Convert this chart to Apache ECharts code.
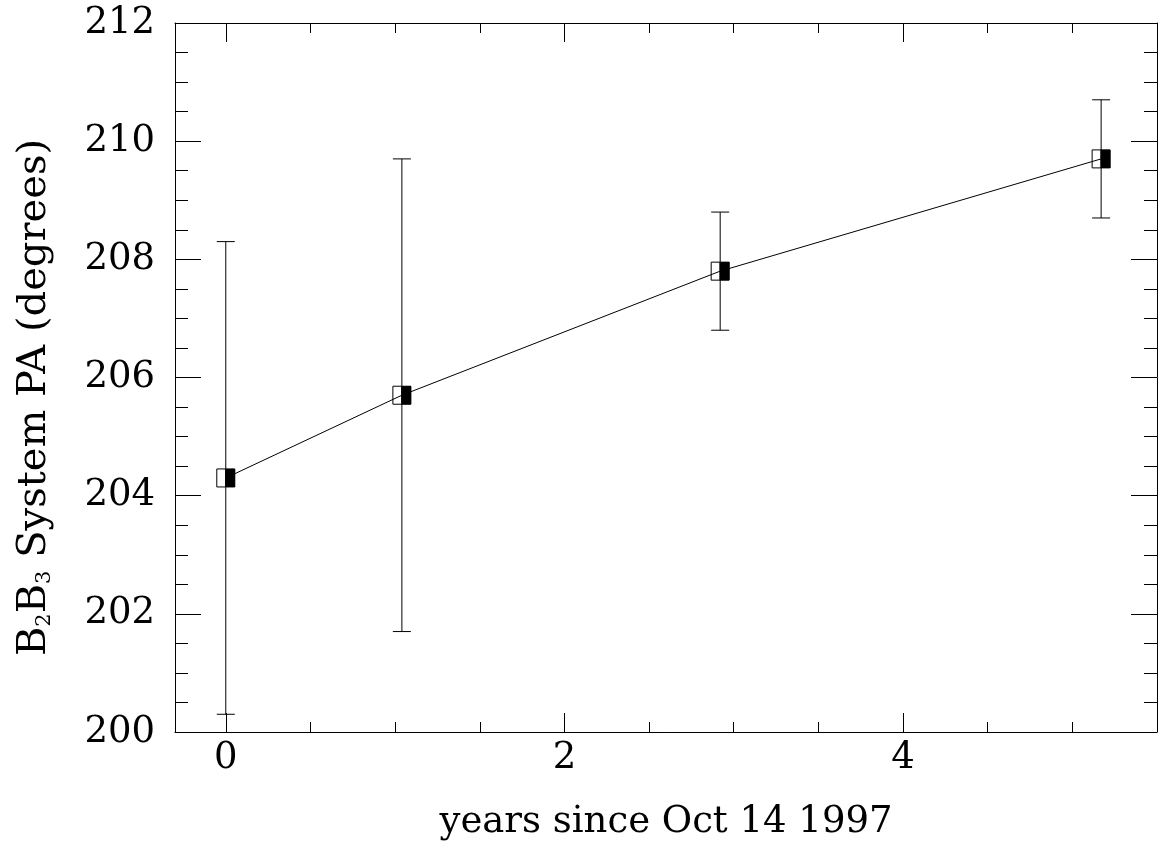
<!DOCTYPE html>
<html>
<head>
<meta charset="utf-8">
<script src="https://cdn.jsdelivr.net/npm/echarts@6/dist/echarts.min.js"></script>
<style>html,body{margin:0;padding:0;background:#fff;}#c{width:1161px;height:848px;}</style>
</head>
<body>
<div id="c"></div>
<script>
// ---- data ----
var years = [0.0, 1.04, 2.92, 5.17];
var pa = [204.3, 205.7, 207.8, 209.7];
var paErr = [4.0, 4.0, 1.0, 1.0];

// ---- ticks ----
var xMinorTicks = [0, 0.5, 1, 1.5, 2, 2.5, 3, 3.5, 4, 4.5, 5, 5.5];
var xMajorTicks = [0, 2, 4];
var yMinorTicks = [200, 200.5, 201, 201.5, 202, 202.5, 203, 203.5, 204, 204.5, 205, 205.5, 206,
                   206.5, 207, 207.5, 208, 208.5, 209, 209.5, 210, 210.5, 211, 211.5, 212];
var yMajorTicks = [200, 202, 204, 206, 208, 210, 212];

var FONT = 'DejaVu Serif';
var FS = 37;
var X_MIN = -0.3, X_MAX = 5.5, Y_MIN = 200, Y_MAX = 212;

var points = years.map(function (x, i) { return [x, pa[i], paErr[i]]; });

function xAxisDef(pos, ticks, len, withLine, withLabels, name) {
  return {
    type: 'value', position: pos, min: X_MIN, max: X_MAX,
    axisLine: { show: withLine, onZero: false, lineStyle: { color: '#000', width: 1 } },
    axisTick: { show: true, inside: true, length: len, customValues: ticks, lineStyle: { color: '#000', width: 1 } },
    axisLabel: withLabels ? { show: true, customValues: xMajorTicks, margin: 8, color: '#000', fontFamily: FONT, fontSize: FS } : { show: false },
    splitLine: { show: false },
    name: name || '',
    nameLocation: 'middle',
    nameGap: 72,
    nameTextStyle: { color: '#000', fontFamily: FONT, fontSize: FS }
  };
}
function yAxisDef(pos, ticks, len, withLine, withLabels, withName) {
  var o = {
    type: 'value', position: pos, min: Y_MIN, max: Y_MAX,
    axisLine: { show: withLine, onZero: false, lineStyle: { color: '#000', width: 1 } },
    axisTick: { show: true, inside: true, length: len, customValues: ticks, lineStyle: { color: '#000', width: 1 } },
    axisLabel: withLabels ? { show: true, customValues: yMajorTicks, margin: 20, color: '#000', fontFamily: FONT, fontSize: FS } : { show: false },
    splitLine: { show: false }
  };
  if (withName) {
    o.name = '{b|B}{s|2}{b|B}{s|3}{b| System PA (degrees)}';
    o.nameLocation = 'middle';
    o.nameRotate = 90;
    o.nameGap = 120;
    o.nameTextStyle = {
      color: '#000', fontFamily: FONT, fontSize: 40, padding: [0, 40, 0, 0],
      rich: {
        b: { fontFamily: FONT, fontSize: 40, color: '#000', verticalAlign: 'bottom', lineHeight: 46 },
        s: { fontFamily: FONT, fontSize: 21, color: '#000', verticalAlign: 'bottom', lineHeight: 42 }
      }
    };
  }
  return o;
}

var chart = echarts.init(document.getElementById('c'), null, { renderer: 'canvas' });
chart.setOption({
  animation: false,
  backgroundColor: '#fff',
  grid: { left: 175, right: 4, top: 23, bottom: 116, containLabel: false },
  xAxis: [
    xAxisDef('bottom', xMinorTicks, 10, true, true, 'years since Oct 14 1997'),
    xAxisDef('bottom', xMajorTicks, 19, false, false),
    xAxisDef('top', xMinorTicks, 10, true, false),
    xAxisDef('top', xMajorTicks, 19, false, false)
  ],
  yAxis: [
    yAxisDef('left', yMinorTicks, 13, true, true, true),
    yAxisDef('left', yMajorTicks, 26, false, false, false),
    yAxisDef('right', yMinorTicks, 13, true, false, false),
    yAxisDef('right', yMajorTicks, 26, false, false, false)
  ],
  series: [
    {
      type: 'custom', xAxisIndex: 0, yAxisIndex: 0, z: 1,
      data: points,
      renderItem: function (params, api) {
        var c = api.coord([api.value(0), api.value(1)]);
        return {
          type: 'group',
          children: [
            { type: 'rect', shape: { x: c[0] - 9, y: c[1] - 9, width: 9, height: 18 },
              style: { fill: '#fff', stroke: '#000', lineWidth: 1 } },
            { type: 'rect', shape: { x: c[0], y: c[1] - 9, width: 9, height: 18 },
              style: { fill: '#000', stroke: '#000', lineWidth: 1 } }
          ]
        };
      }
    },
    {
      type: 'line', xAxisIndex: 0, yAxisIndex: 0, z: 2,
      data: points.map(function (p) { return [p[0], p[1]]; }),
      showSymbol: false, symbol: 'none',
      lineStyle: { color: '#000', width: 1 }
    },
    {
      type: 'custom', xAxisIndex: 0, yAxisIndex: 0, z: 3,
      data: points,
      renderItem: function (params, api) {
        var x = api.value(0), y = api.value(1), e = api.value(2);
        var t = api.coord([x, y + e]);
        var b = api.coord([x, y - e]);
        var st = { stroke: '#000', lineWidth: 1 };
        return {
          type: 'group',
          children: [
            { type: 'line', shape: { x1: t[0], y1: t[1], x2: b[0], y2: b[1] }, style: st },
            { type: 'line', shape: { x1: t[0] - 9, y1: t[1], x2: t[0] + 9, y2: t[1] }, style: st },
            { type: 'line', shape: { x1: b[0] - 9, y1: b[1], x2: b[0] + 9, y2: b[1] }, style: st }
          ]
        };
      }
    },
    {
      type: 'custom', xAxisIndex: 0, yAxisIndex: 0, z: 4,
      data: points,
      renderItem: function (params, api) {
        var c = api.coord([api.value(0), api.value(1)]);
        return { type: 'rect', shape: { x: c[0], y: c[1] - 9, width: 9, height: 18 },
                 style: { fill: '#000' } };
      }
    }
  ]
});
</script>
</body>
</html>
